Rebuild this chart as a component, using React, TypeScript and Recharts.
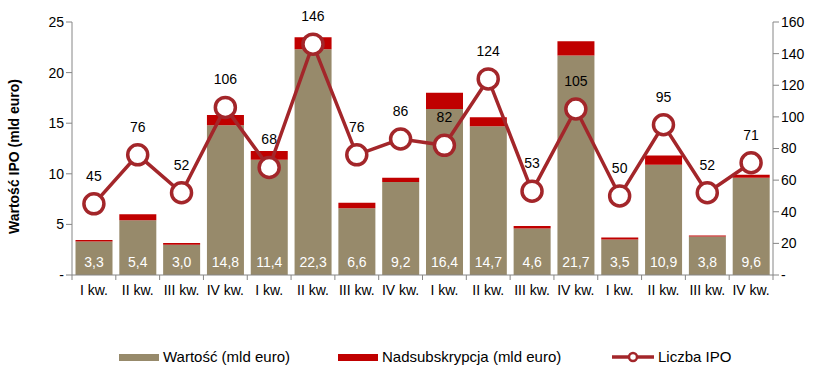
import {
  ComposedChart,
  Bar,
  Line,
  XAxis,
  YAxis,
  Legend,
  LabelList,
} from "recharts";

const quarters = [
  "I kw.", "II kw.", "III kw.", "IV kw.",
  "I kw.", "II kw.", "III kw.", "IV kw.",
  "I kw.", "II kw.", "III kw.", "IV kw.",
  "I kw.", "II kw.", "III kw.", "IV kw.",
];
const wartosc = [3.3, 5.4, 3.0, 14.8, 11.4, 22.3, 6.6, 9.2, 16.4, 14.7, 4.6, 21.7, 3.5, 10.9, 3.8, 9.6];
const nadsubskrypcja = [0.15, 0.6, 0.15, 1.0, 0.85, 1.2, 0.55, 0.4, 1.6, 0.9, 0.25, 1.4, 0.2, 0.9, 0.1, 0.3];
const liczbaIpo = [45, 76, 52, 106, 68, 146, 76, 86, 82, 124, 53, 105, 50, 95, 52, 71];
const leftTicks = [0, 5, 10, 15, 20, 25];
const rightTicks = [0, 20, 40, 60, 80, 100, 120, 140, 160];

const data = quarters.map((q, i) => ({
  id: i,
  name: q,
  wartosc: wartosc[i],
  nad: nadsubskrypcja[i],
  ipo: liczbaIpo[i],
}));

const FONT = "'Liberation Sans', Arial, sans-serif";
const KHAKI = "#978a6b";
const RED = "#c00000";
const LINE = "#a3262a";
const AXIS = "#868686";
const BAND = 701 / 16;

const fmtDec = (v: number) => v.toFixed(1).replace(".", ",");
const dashZero = (v: number) => (v === 0 ? "-" : `${v}`);

function XTick(props: any) {
  const { x, y, payload, index } = props;
  return (
    <g>
      <line x1={x + BAND / 2} x2={x + BAND / 2} y1={y - 8} y2={y - 3} stroke={AXIS} />
      {index === 0 && (
        <line x1={x - BAND / 2} x2={x - BAND / 2} y1={y - 8} y2={y - 3} stroke={AXIS} />
      )}
      <text x={x} y={y + 12} textAnchor="middle" fontSize={14} fill="#000" fontFamily={FONT}>
        {quarters[payload.value] ?? payload.value}
      </text>
    </g>
  );
}

function BarValue(props: any) {
  const { x, y, width, height, value } = props;
  return (
    <text
      x={x + width / 2}
      y={y + height - 8}
      textAnchor="middle"
      fontSize={14}
      fill="#fff"
      fontFamily={FONT}
    >
      {fmtDec(value)}
    </text>
  );
}

function PointValue(props: any) {
  const { x, y, value } = props;
  return (
    <text x={x} y={y - 23} textAnchor="middle" fontSize={14} fill="#000" fontFamily={FONT}>
      {value}
    </text>
  );
}

function AxisTitle(props: any) {
  const { viewBox } = props;
  const cx = 14;
  const cy = viewBox.y + viewBox.height / 2 + 8;
  return (
    <text
      x={cx}
      y={cy}
      transform={`rotate(-90 ${cx} ${cy})`}
      textAnchor="middle"
      dominantBaseline="central"
      fontSize={14}
      fontWeight="bold"
      fill="#000"
      fontFamily={FONT}
    >
      Wartość IPO (mld euro)
    </text>
  );
}

function LegendContent() {
  const txt = { position: "absolute", top: 0, lineHeight: "20px" } as const;
  return (
    <div style={{ position: "relative", width: 826, height: 20, fontFamily: FONT, fontSize: 15, color: "#000" }}>
      <span style={{ position: "absolute", left: 119, top: 7, width: 40, height: 7, background: KHAKI }} />
      <span style={{ ...txt, left: 163 }}>Wartość (mld euro)</span>
      <span style={{ position: "absolute", left: 338, top: 7, width: 40, height: 7, background: RED }} />
      <span style={{ ...txt, left: 382 }}>Nadsubskrypcja (mld euro)</span>
      <svg style={{ position: "absolute", left: 612, top: 1 }} width={42} height={18}>
        <line x1={0} x2={42} y1={9} y2={9} stroke={LINE} strokeWidth={3.5} />
        <circle cx={21} cy={9} r={4} fill="#fff" stroke={LINE} strokeWidth={2.5} />
      </svg>
      <span style={{ ...txt, left: 658 }}>Liczba IPO</span>
    </div>
  );
}

export default function App() {
  return (
    <div style={{ position: "absolute", left: 0, top: 0, width: 826, height: 379, background: "#fff" }}>
      <ComposedChart
        width={826}
        height={379}
        data={data}
        margin={{ top: 22, right: 0, left: 0, bottom: 54 }}
        barCategoryGap="8%"
      >
        <XAxis
          dataKey="id"
          tick={<XTick />}
          tickLine={false}
          axisLine={{ stroke: AXIS }}
          interval={0}
          height={30}
        />
        <YAxis
          yAxisId="left"
          domain={[0, 25]}
          ticks={leftTicks}
          tickFormatter={dashZero}
          width={72}
          tick={{ fontSize: 14, fill: "#000", fontFamily: FONT }}
          tickSize={6}
          tickLine={{ stroke: AXIS }}
          axisLine={{ stroke: AXIS }}
          label={<AxisTitle />}
        />
        <YAxis
          yAxisId="right"
          orientation="right"
          domain={[0, 160]}
          ticks={rightTicks}
          tickFormatter={dashZero}
          width={53}
          tick={{ fontSize: 14, fill: "#000", fontFamily: FONT }}
          tickSize={6}
          tickLine={{ stroke: AXIS }}
          axisLine={{ stroke: AXIS }}
        />
        <Bar yAxisId="left" dataKey="wartosc" stackId="a" fill={KHAKI} isAnimationActive={false}>
          <LabelList dataKey="wartosc" content={<BarValue />} />
        </Bar>
        <Bar yAxisId="left" dataKey="nad" stackId="a" fill={RED} isAnimationActive={false} />
        <Line
          yAxisId="right"
          dataKey="ipo"
          stroke={LINE}
          strokeWidth={3.5}
          dot={{ r: 10, fill: "#fff", stroke: LINE, strokeWidth: 3.5 }}
          activeDot={false}
          isAnimationActive={false}
        >
          <LabelList dataKey="ipo" content={<PointValue />} />
        </Line>
        <Legend
          verticalAlign="bottom"
          content={<LegendContent />}
          wrapperStyle={{ bottom: 12, left: 0, width: 826 }}
        />
      </ComposedChart>
    </div>
  );
}
